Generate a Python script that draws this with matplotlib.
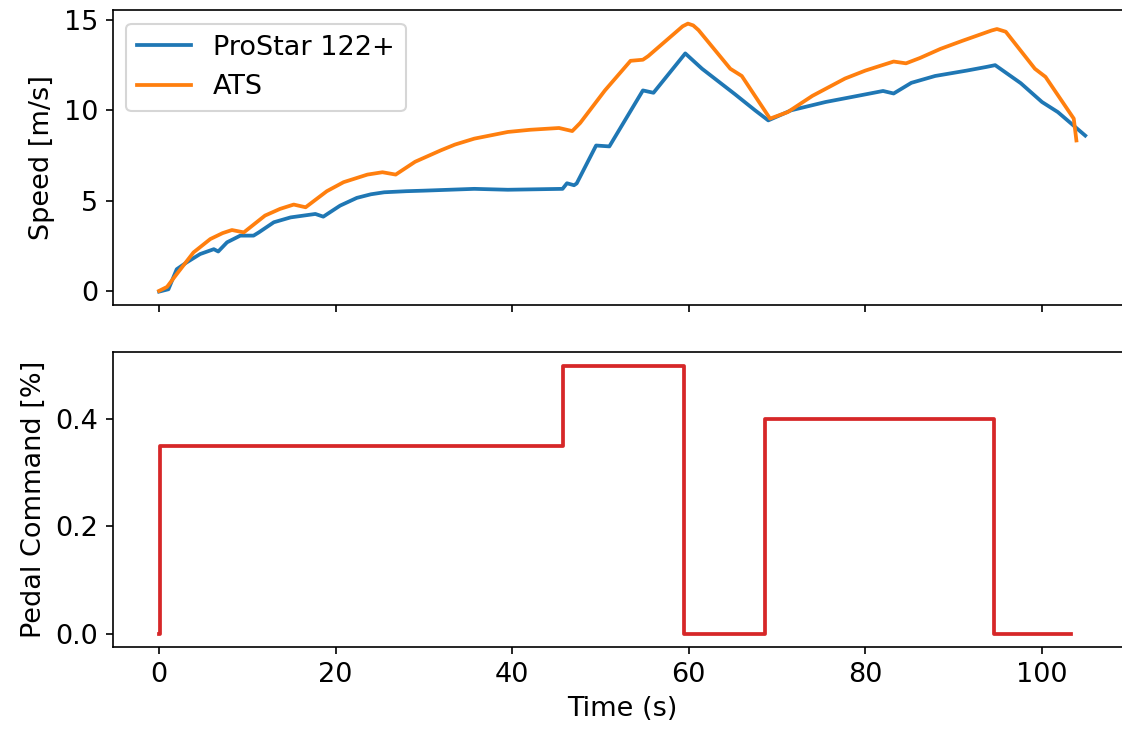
import matplotlib
matplotlib.use("Agg")
import matplotlib.pyplot as plt

# ProStar 122+ speed trace (time [s], speed [m/s])
prostar_t = [0.0, 1.06, 2.0, 3.1, 4.65, 6.2, 6.7, 7.7, 9.2, 10.7, 11.3, 13.0, 14.9,
             17.7, 18.6, 20.5, 22.4, 24.0, 25.5, 28.0, 30.0, 35.7, 39.5, 45.7, 46.2,
             47.0, 47.3, 49.5, 51.0, 54.8, 56.0, 59.6, 61.5, 65.2, 67.5, 69.0, 71.6,
             75.5, 78.5, 82.0, 83.2, 85.2, 87.9, 91.5, 93.7, 94.7, 97.6, 100.0,
             101.8, 104.9]
prostar_v = [-0.04, 0.09, 1.2, 1.57, 2.04, 2.31, 2.18, 2.69, 3.06, 3.06, 3.24, 3.8, 4.07,
             4.26, 4.11, 4.72, 5.15, 5.35, 5.46, 5.52, 5.55, 5.65, 5.6, 5.65, 5.96,
             5.85, 5.95, 8.05, 8.0, 11.1, 10.97, 13.15, 12.3, 10.9, 10.0, 9.44, 10.0,
             10.46, 10.74, 11.07, 10.93, 11.52, 11.9, 12.2, 12.4, 12.5, 11.5, 10.46,
             9.9, 8.6]

# ATS simulated speed
ats_t = [0.0, 0.9, 2.0, 3.9, 5.8, 7.2, 8.25, 9.6, 12.0, 13.7, 15.25, 16.6, 19.0,
         20.9, 23.6, 25.3, 26.8, 29.0, 31.9, 33.5, 35.7, 39.5, 42.0, 45.3, 46.8,
         47.7, 50.5, 53.4, 54.8, 55.4, 59.3, 59.9, 60.5, 61.1, 64.7, 66.0, 69.2,
         71.2, 74.0, 77.7, 80.0, 83.2, 84.6, 86.2, 88.5, 91.0, 94.3, 94.9, 95.9,
         99.2, 100.4, 103.6, 103.9]
ats_v = [0.0, 0.22, 0.93, 2.13, 2.87, 3.2, 3.37, 3.24, 4.17, 4.54, 4.78, 4.63, 5.52,
         6.02, 6.44, 6.57, 6.44, 7.15, 7.78, 8.1, 8.43, 8.8, 8.92, 9.02, 8.85,
         9.3, 11.1, 12.74, 12.8, 13.0, 14.65, 14.8, 14.7, 14.44, 12.3, 11.9, 9.54,
         9.9, 10.8, 11.76, 12.2, 12.7, 12.6, 12.9, 13.4, 13.85, 14.42, 14.5, 14.35,
         12.3, 11.85, 9.54, 8.33]

# Pedal command steps
pedal_t = [0.0, 0.1, 45.7, 59.5, 68.6, 94.6, 103.3]
pedal_v = [0.0, 0.35, 0.5, 0.0, 0.4, 0.0, 0.0]
pedal_ticks = [0.0, 0.2, 0.4]

plt.rcParams['font.size'] = 13

fig, (ax1, ax2) = plt.subplots(2, 1, sharex=True, figsize=(7.48, 4.86), dpi=150)
fig.subplots_adjust(left=0.1005, right=1.0085, top=0.986, bottom=0.1125, hspace=0.16)

ax1.plot(prostar_t, prostar_v, color='tab:blue', lw=1.8, label='ProStar 122+')
ax1.plot(ats_t, ats_v, color='tab:orange', lw=1.8, label='ATS')
ax1.set_ylabel('Speed [m/s]')
ax1.legend(loc='upper left')

ax2.step(pedal_t, pedal_v, where='post', color='tab:red', lw=1.8)
ax2.set_yticks(pedal_ticks)
ax2.set_ylabel('Pedal Command [%]')
ax2.set_xlabel('Time (s)')

fig.savefig('out.png', dpi=150)
